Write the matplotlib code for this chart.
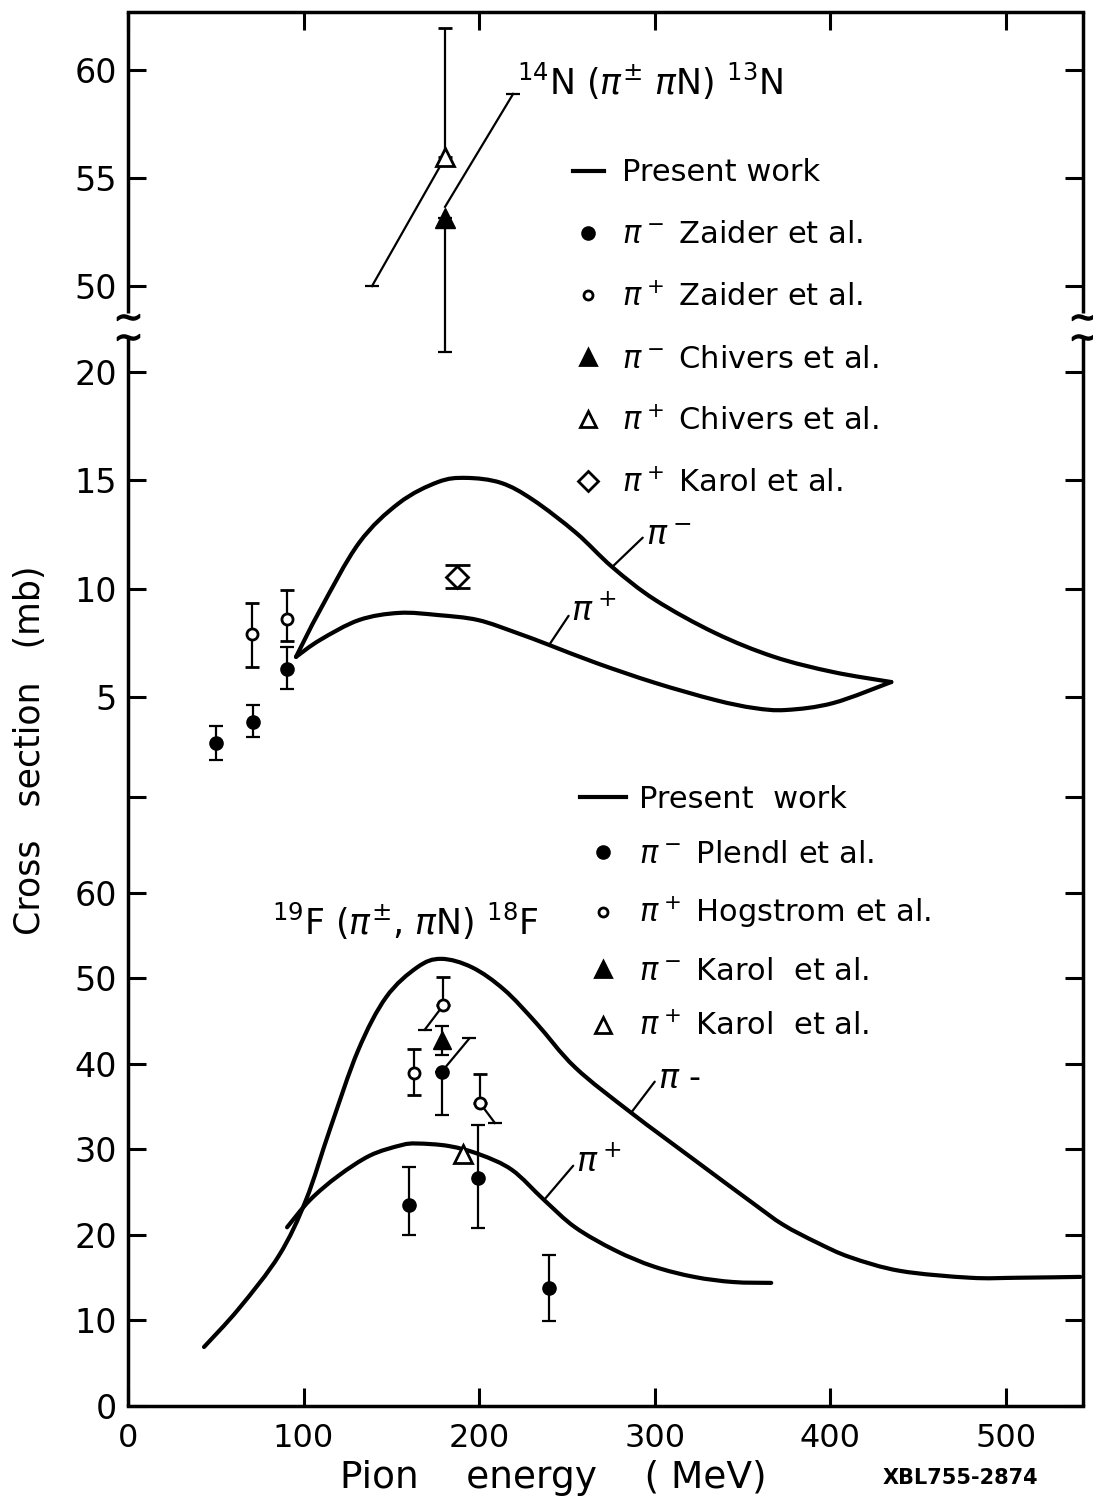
import numpy as np
import matplotlib.pyplot as plt
from matplotlib.lines import Line2D
from matplotlib.path import Path
from matplotlib.patches import PathPatch

plt.rcParams['font.family'] = ['DejaVu Sans']
plt.rcParams['mathtext.fontset'] = 'dejavusans'

# =============================================================================
#     Data  (energy in MeV, cross section in mb)
# =============================================================================
# 14N(pi+-, piN)13N  -- present work
n_minus_E = [95.7, 109.4, 131.6, 154.4, 176.6, 192.6, 212.5, 230.8, 255.3, 275.8, 300.3, 334.5, 368.1, 401.7, 434.8]
n_minus_S = [6.85, 9.01, 12.11, 13.95, 14.92, 15.11, 14.88, 14.09, 12.57, 11.0, 9.48, 7.95, 6.85, 6.15, 5.69]
n_plus_E = [95.7, 109.4, 131.6, 154.4, 176.6, 199.4, 221.7, 239.9, 266.7, 300.3, 334.5, 356.7, 374.9, 401.7, 434.8]
n_plus_S = [6.85, 7.63, 8.55, 8.88, 8.78, 8.55, 7.95, 7.40, 6.57, 5.65, 4.86, 4.49, 4.40, 4.72, 5.69]

# 14N measurements
zaider_m_E = [50.1, 71.2, 90.6]
zaider_m_S = [2.88, 3.85, 6.29]
zaider_m_lo = [0.78, 0.70, 0.92]
zaider_m_hi = [0.78, 0.78, 1.02]
zaider_p_E = [70.7, 90.6]
zaider_p_S = [7.91, 8.60]
zaider_p_lo = [1.53, 1.02]
zaider_p_hi = [1.43, 1.34]
karol_n_E = [187.5]
karol_n_S = [10.54]
karol_n_lo = [0.51]
karol_n_hi = [0.55]
# above the axis break
chivers_m_E = [180.6]
chivers_m_S = [53.15]
chivers_m_lo = [6.2]
chivers_m_hi = [0.0]
chivers_p_E = [180.6]
chivers_p_S = [55.97]
chivers_p_lo = [0.0]
chivers_p_hi = [5.97]
seg_left_E = [139.0, 178.7]
seg_left_S = [50.0, 55.68]
seg_right_E = [180.6, 219.4]
seg_right_S = [53.67, 58.9]

# 19F(pi+-, piN)18F  -- present work
f_minus_E = [43.3, 63.2, 86.0, 101.4, 115.1, 131.1, 147.0, 164.7, 178.3, 196.0, 214.2, 232.5, 254.7, 286.6,
             322.5, 356.1, 373.2, 392.6, 411.4, 439.9, 479.8, 506.6, 542.5]
f_minus_S = [6.9, 11.4, 17.6, 24.1, 32.4, 41.6, 47.8, 51.3, 52.3, 51.3, 48.7, 44.8, 39.6, 34.3,
             28.8, 23.7, 21.2, 19.1, 17.4, 15.8, 15.0, 15.0, 15.1]
f_plus_E = [90.6, 103.7, 119.7, 137.9, 155.6, 164.7, 182.9, 200.6, 218.8, 237.0, 254.7, 277.5, 299.7, 322.5, 344.7, 366.4]
f_plus_S = [20.9, 24.1, 26.9, 29.3, 30.5, 30.7, 30.4, 29.4, 27.6, 24.1, 20.9, 18.2, 16.3, 15.1, 14.5, 14.4]

# 19F measurements
plendl_E = [159.8, 178.7, 199.6, 239.8]
plendl_S = [23.5, 39.1, 26.7, 13.8]
plendl_lo = [3.5, 5.1, 5.9, 3.9]
plendl_hi = [4.5, 0.0, 6.2, 3.9]
hog_E = [163.0, 179.7, 200.6]
hog_S = [38.9, 46.9, 35.4]
hog_lo = [2.5, 0.0, 0.0]
hog_hi = [2.9, 3.3, 3.4]
karol_fm_E = [178.7]
karol_fm_S = [42.8]
karol_fm_lo = [1.7]
karol_fm_hi = [1.6]
karol_fp_E = [191.1]
karol_fp_S = [29.5]
# slanted offset markers: (which series, index) -> end point
lead_from = [('hog', 1), ('plendl', 1), ('hog', 2)]
lead_end_E = [169.0, 194.5, 209.0]
lead_end_S = [44.0, 43.0, 33.1]


def smooth_curve(a, xs, ys, lw=3):
    """draw the read points as one smooth stroke (Catmull-Rom -> Bezier)"""
    p = np.column_stack([xs, ys])
    q = np.vstack([p[0], p, p[-1]])
    verts, codes = [p[0]], [Path.MOVETO]
    for i in range(len(p) - 1):
        p0, p1, p2, p3 = q[i], q[i + 1], q[i + 2], q[i + 3]
        verts += [p1 + (p2 - p0) / 6, p2 - (p3 - p1) / 6, p2]
        codes += [Path.CURVE4] * 3
    a.add_patch(PathPatch(Path(verts, codes), fill=False, lw=lw, ec='k',
                          capstyle='round', joinstyle='round'))


# =============================================================================
#     Figure and the three overlaid scales
# =============================================================================
W, H = 1093, 1502
fig = plt.figure(figsize=(W / 100, H / 100), dpi=100)
rect = [128 / W, 96 / H, 955 / W, 1394 / H]
ax = fig.add_axes(rect)                 # 19F scale
axn = fig.add_axes(rect, sharex=ax)     # 14N scale below the break
axt = fig.add_axes(rect, sharex=ax)     # 14N scale above the break

ax.set_xlim(0, 544)
ax.set_ylim(0, 163.04)
axn.set_ylim(-27.72, 36.61)
axt.set_ylim(-1.85, 62.69)

LW_FRAME = 2.5
for a in (axn, axt):
    a.patch.set_visible(False)
    for s in a.spines.values():
        s.set_visible(False)
    a.tick_params(axis='x', which='both', bottom=False, top=False, labelbottom=False)

for s in ('left', 'right'):
    ax.spines[s].set_visible(False)
for s in ('top', 'bottom'):
    ax.spines[s].set_linewidth(LW_FRAME)

ax.set_xticks([0, 100, 200, 300, 400, 500])
ax.set_yticks([0, 10, 20, 30, 40, 50, 60])
axn.set_yticks([5, 10, 15, 20])
axn.set_yticks([0.4], minor=True)
axn.set_yticklabels([], minor=True)
axt.set_yticks([50, 55, 60])

ax.tick_params(axis='x', direction='in', length=13, width=2.2, top=True, bottom=True,
               labelsize=23, pad=12)
for a in (ax, axn, axt):
    a.tick_params(axis='y', which='both', direction='in', length=13, width=2.2,
                  left=True, right=True, labelsize=24, pad=8)

# frame sides with the break
for xs in (0, 1):
    ax.plot([xs, xs], [0, 0.767], transform=ax.transAxes, color='k', lw=LW_FRAME,
            clip_on=False, solid_capstyle='butt')
    ax.plot([xs, xs], [0.784, 1], transform=ax.transAxes, color='k', lw=LW_FRAME,
            clip_on=False, solid_capstyle='butt')
    for yb in (0.781, 0.767):
        ax.plot([xs], [yb], transform=ax.transAxes, marker=r'$\sim$', ms=16,
                color='k', clip_on=False)

# =============================================================================
#     Curves
# =============================================================================
smooth_curve(axn, n_minus_E, n_minus_S)
smooth_curve(axn, n_plus_E, n_plus_S)
smooth_curve(ax, f_minus_E, f_minus_S)
smooth_curve(ax, f_plus_E, f_plus_S)

THIN = dict(color='k', lw=1.6)
axt.plot(seg_left_E, seg_left_S, **THIN)
axt.plot(seg_left_E[0], seg_left_S[0], marker='_', ms=10, mew=1.6, color='k')
axt.plot(seg_right_E, seg_right_S, **THIN)
axt.plot(seg_right_E[-1], seg_right_S[-1], marker='_', ms=10, mew=1.6, color='k')

# =============================================================================
#     Measurements
# =============================================================================
EB = dict(color='k', capsize=5, elinewidth=1.6, capthick=1.6, linestyle='none')

axn.errorbar(zaider_m_E, zaider_m_S, yerr=[zaider_m_lo, zaider_m_hi], fmt='o', ms=9.5, **EB)
axn.errorbar(zaider_p_E, zaider_p_S, yerr=[zaider_p_lo, zaider_p_hi], fmt='o', ms=8,
             mfc='white', mew=2, **EB)
axn.errorbar(karol_n_E, karol_n_S, yerr=[karol_n_lo, karol_n_hi], fmt='D', ms=11.5,
             mfc='white', mew=2, color='k', capsize=9, elinewidth=1.6, capthick=1.6)

axt.errorbar(chivers_m_E, chivers_m_S, yerr=[chivers_m_lo, chivers_m_hi], fmt='^', ms=14, **EB)
axt.errorbar(chivers_p_E, chivers_p_S, yerr=[chivers_p_lo, chivers_p_hi], fmt='^', ms=13,
             mfc='white', mew=2, **EB)

series = {'plendl': (plendl_E, plendl_S), 'hog': (hog_E, hog_S)}
for (name, i), xe, ye in zip(lead_from, lead_end_E, lead_end_S):
    xs, ys = series[name]
    ax.plot([xs[i], xe], [ys[i], ye], **THIN)
    ax.plot(xe, ye, marker='_', ms=10, mew=1.6, color='k')

ax.errorbar(plendl_E, plendl_S, yerr=[plendl_lo, plendl_hi], fmt='o', ms=9.5, **EB)
ax.errorbar(hog_E, hog_S, yerr=[hog_lo, hog_hi], fmt='o', ms=8, mfc='white', mew=2, **EB)
ax.errorbar(karol_fm_E, karol_fm_S, yerr=[karol_fm_lo, karol_fm_hi], fmt='^', ms=13, **EB)
ax.plot(karol_fp_E, karol_fp_S, marker='^', ms=13, mfc='white', mew=2, color='k', linestyle='none')

# =============================================================================
#     Curve labels and titles
# =============================================================================
LEAD = dict(arrowstyle='-', lw=1.6, color='k', shrinkA=0, shrinkB=0, relpos=(0, 0.5))
axn.annotate(r'$\pi^-$', xy=(n_minus_E[9], n_minus_S[9]), xytext=(24, 23),
             textcoords='offset points', fontsize=24, ha='left', va='center', arrowprops=LEAD)
axn.annotate(r'$\pi^+$', xy=(n_plus_E[7], n_plus_S[7]), xytext=(16, 24),
             textcoords='offset points', fontsize=24, ha='left', va='center', arrowprops=LEAD)
ax.annotate(r'$\pi$ -', xy=(f_minus_E[13], f_minus_S[13]), xytext=(19, 25),
            textcoords='offset points', fontsize=24, ha='left', va='center', arrowprops=LEAD)
ax.annotate(r'$\pi^+$', xy=(f_plus_E[9], f_plus_S[9]), xytext=(23, 27),
            textcoords='offset points', fontsize=24, ha='left', va='center', arrowprops=LEAD)

ax.text(0.407, 0.9405, r'$^{14}$N ($\pi^{\pm}$ $\pi$N) $^{13}$N', transform=ax.transAxes,
        fontsize=25, ha='left', va='baseline')
ax.text(0.151, 0.338, r'$^{19}$F ($\pi^{\pm}$, $\pi$N) $^{18}$F', transform=ax.transAxes,
        fontsize=25, ha='left', va='baseline')

# =============================================================================
#     Legends
# =============================================================================
def h_line():
    return Line2D([], [], color='k', lw=3)

def h_mark(m, ms, filled=True):
    return Line2D([], [], color='k', marker=m, ms=ms, linestyle='none',
                  mfc='k' if filled else 'white', mew=2)

up_handles = [h_line(), h_mark('o', 8.5), h_mark('o', 6.5, False), h_mark('^', 12),
              h_mark('^', 11, False), h_mark('D', 10, False)]
up_labels = ['Present work', r'$\pi^-$ Zaider et al.', r'$\pi^+$ Zaider et al.',
             r'$\pi^-$ Chivers et al.', r'$\pi^+$ Chivers et al.', r'$\pi^+$ Karol et al.']
leg1 = axn.legend(up_handles, up_labels, loc='upper left', bbox_to_anchor=(0.466, 0.895),
                  frameon=False, fontsize=22, handlelength=1.0, handletextpad=0.6,
                  labelspacing=1.08, borderpad=0, borderaxespad=0)

lo_handles = [h_line(), h_mark('o', 8.5), h_mark('o', 6.5, False), h_mark('^', 12),
              h_mark('^', 11, False)]
lo_labels = ['Present  work', r'$\pi^-$ Plendl et al.', r'$\pi^+$ Hogstrom et al.',
             r'$\pi^-$ Karol  et al.', r'$\pi^+$ Karol  et al.']
leg2 = ax.legend(lo_handles, lo_labels, loc='upper left', bbox_to_anchor=(0.473, 0.4457),
                 frameon=False, fontsize=22, handlelength=1.5, handletextpad=0.45,
                 labelspacing=0.86, borderpad=0, borderaxespad=0)

# =============================================================================
#     Axis titles
# =============================================================================
fig.text(30 / W, 1 - 750 / H, 'Cross   section   (mb)', rotation=90, fontsize=25,
         ha='center', va='center')
fig.text(553 / W, 1 - 1478 / H, 'Pion    energy    ( MeV)', fontsize=27,
         ha='center', va='center')
fig.text(960 / W, 1 - 1478 / H, 'XBL755-2874', fontsize=15, fontweight='bold',
         ha='center', va='center')

plt.savefig('out.png', dpi=100)
